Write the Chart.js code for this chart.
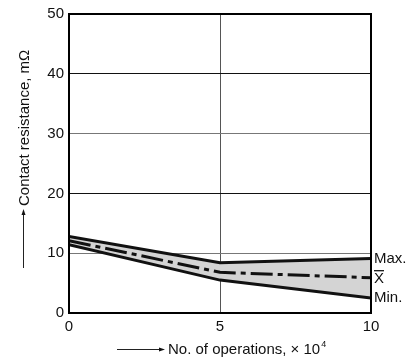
<!DOCTYPE html>
<html>
<head>
<meta charset="utf-8">
<script src="https://cdn.jsdelivr.net/npm/chart.js@4"></script>
<style>
  html, body { margin: 0; padding: 0; background: #fff; }
  #wrap { width: 418px; height: 362px; }
</style>
</head>
<body>
<div id="wrap"><canvas id="chart" width="418" height="362"></canvas></div>
<script>
// data
const operations = [0, 5, 10];            // x 10^4
const maxValues  = [12.8, 8.4, 9.1];
const meanValues = [12.1, 6.8, 5.9];
const minValues  = [11.4, 5.5, 2.5];
const yTicks = [0, 10, 20, 30, 40, 50];
const xTicks = [0, 5, 10];

const FONT = 'Liberation Sans, Arial, Helvetica, sans-serif';

// labels at the right end, title texts and the frame
const annotate = {
  id: 'annotate',
  afterDraw(chart) {
    const c = chart.ctx;
    const a = chart.chartArea;
    const y = chart.scales.y;
    c.save();

    // frame
    c.strokeStyle = '#000';
    c.lineWidth = 2;
    c.strokeRect(a.left, a.top, a.right - a.left, a.bottom - a.top);

    // end labels
    c.fillStyle = '#111';
    c.font = '15px ' + FONT;
    c.textBaseline = 'middle';
    c.textAlign = 'left';
    const lx = a.right + 3;
    c.fillText('Max.', lx, y.getPixelForValue(maxValues[maxValues.length - 1]));
    const my = y.getPixelForValue(meanValues[meanValues.length - 1]) + 1;
    c.fillText('X', lx, my);
    const xw = c.measureText('X').width;
    c.lineWidth = 1.2;
    c.beginPath();
    c.moveTo(lx, my - 8);
    c.lineTo(lx + xw, my - 8);
    c.stroke();
    c.fillText('Min.', lx, y.getPixelForValue(minValues[minValues.length - 1]));

    // y title, rotated, with arrow below
    c.font = '15px ' + FONT;
    c.save();
    c.translate(25, 206);
    c.rotate(-Math.PI / 2);
    c.textAlign = 'left';
    c.textBaseline = 'middle';
    c.fillText('Contact resistance, m\u03A9', 0, 0);
    c.restore();
    c.lineWidth = 1;
    c.strokeStyle = '#222';
    c.beginPath();
    c.moveTo(23.5, 268);
    c.lineTo(23.5, 214);
    c.stroke();
    c.beginPath();
    c.moveTo(23.5, 209);
    c.lineTo(21.5, 215);
    c.lineTo(25.5, 215);
    c.closePath();
    c.fill();

    // x title with arrow
    c.beginPath();
    c.moveTo(117, 349.5);
    c.lineTo(160, 349.5);
    c.stroke();
    c.beginPath();
    c.moveTo(165, 349.5);
    c.lineTo(159, 347.5);
    c.lineTo(159, 351.5);
    c.closePath();
    c.fill();
    c.textAlign = 'left';
    c.textBaseline = 'middle';
    const t = 'No. of operations, \u00D7 10';
    c.fillText(t, 168, 350);
    const tw = c.measureText(t).width;
    c.font = '9px ' + FONT;
    c.fillText('4', 168 + tw + 1, 345);

    c.restore();
  }
};

new Chart(document.getElementById('chart'), {
  type: 'line',
  data: {
    labels: operations,
    datasets: [
      {
        label: 'Max.',
        data: maxValues,
        borderColor: '#111',
        borderWidth: 3,
        backgroundColor: '#d4d4d4',
        fill: '+2',
        pointRadius: 0,
        tension: 0
      },
      {
        label: 'X',
        data: meanValues,
        borderColor: '#111',
        borderWidth: 3,
        borderDash: [22, 5, 5, 5],
        fill: false,
        pointRadius: 0,
        tension: 0
      },
      {
        label: 'Min.',
        data: minValues,
        borderColor: '#111',
        borderWidth: 3,
        fill: false,
        pointRadius: 0,
        tension: 0
      }
    ]
  },
  options: {
    responsive: false,
    animation: false,
    layout: { padding: { left: 0, top: 11, right: 47, bottom: 0 } },
    plugins: {
      legend: { display: false },
      tooltip: { enabled: false },
      filler: { drawTime: 'beforeDatasetsDraw' }
    },
    scales: {
      x: {
        type: 'linear',
        min: 0,
        max: 10,
        afterBuildTicks: (s) => { s.ticks = xTicks.map(v => ({ value: v })); },
        afterFit: (s) => { s.height = 49; },
        border: { display: false },
        grid: {
          drawTicks: false,
          color: (ctx) => (ctx.tick && (ctx.tick.value === 0 || ctx.tick.value === 10)) ? 'rgba(0,0,0,0)' : '#555',
          lineWidth: 1
        },
        ticks: {
          color: '#111',
          font: { size: 15, family: FONT },
          padding: 5
        }
      },
      y: {
        min: 0,
        max: 50,
        afterBuildTicks: (s) => { s.ticks = yTicks.map(v => ({ value: v })); },
        afterFit: (s) => { s.width = 69; },
        border: { display: false },
        grid: {
          drawTicks: false,
          color: (ctx) => {
            const v = ctx.tick && ctx.tick.value;
            if (v === 0 || v === 50) return 'rgba(0,0,0,0)';
            return (v === 10 || v === 30) ? '#777' : '#111';
          },
          lineWidth: 1
        },
        ticks: {
          color: '#111',
          font: { size: 15, family: FONT },
          padding: 5
        }
      }
    }
  },
  plugins: [annotate]
});
</script>
</body>
</html>
